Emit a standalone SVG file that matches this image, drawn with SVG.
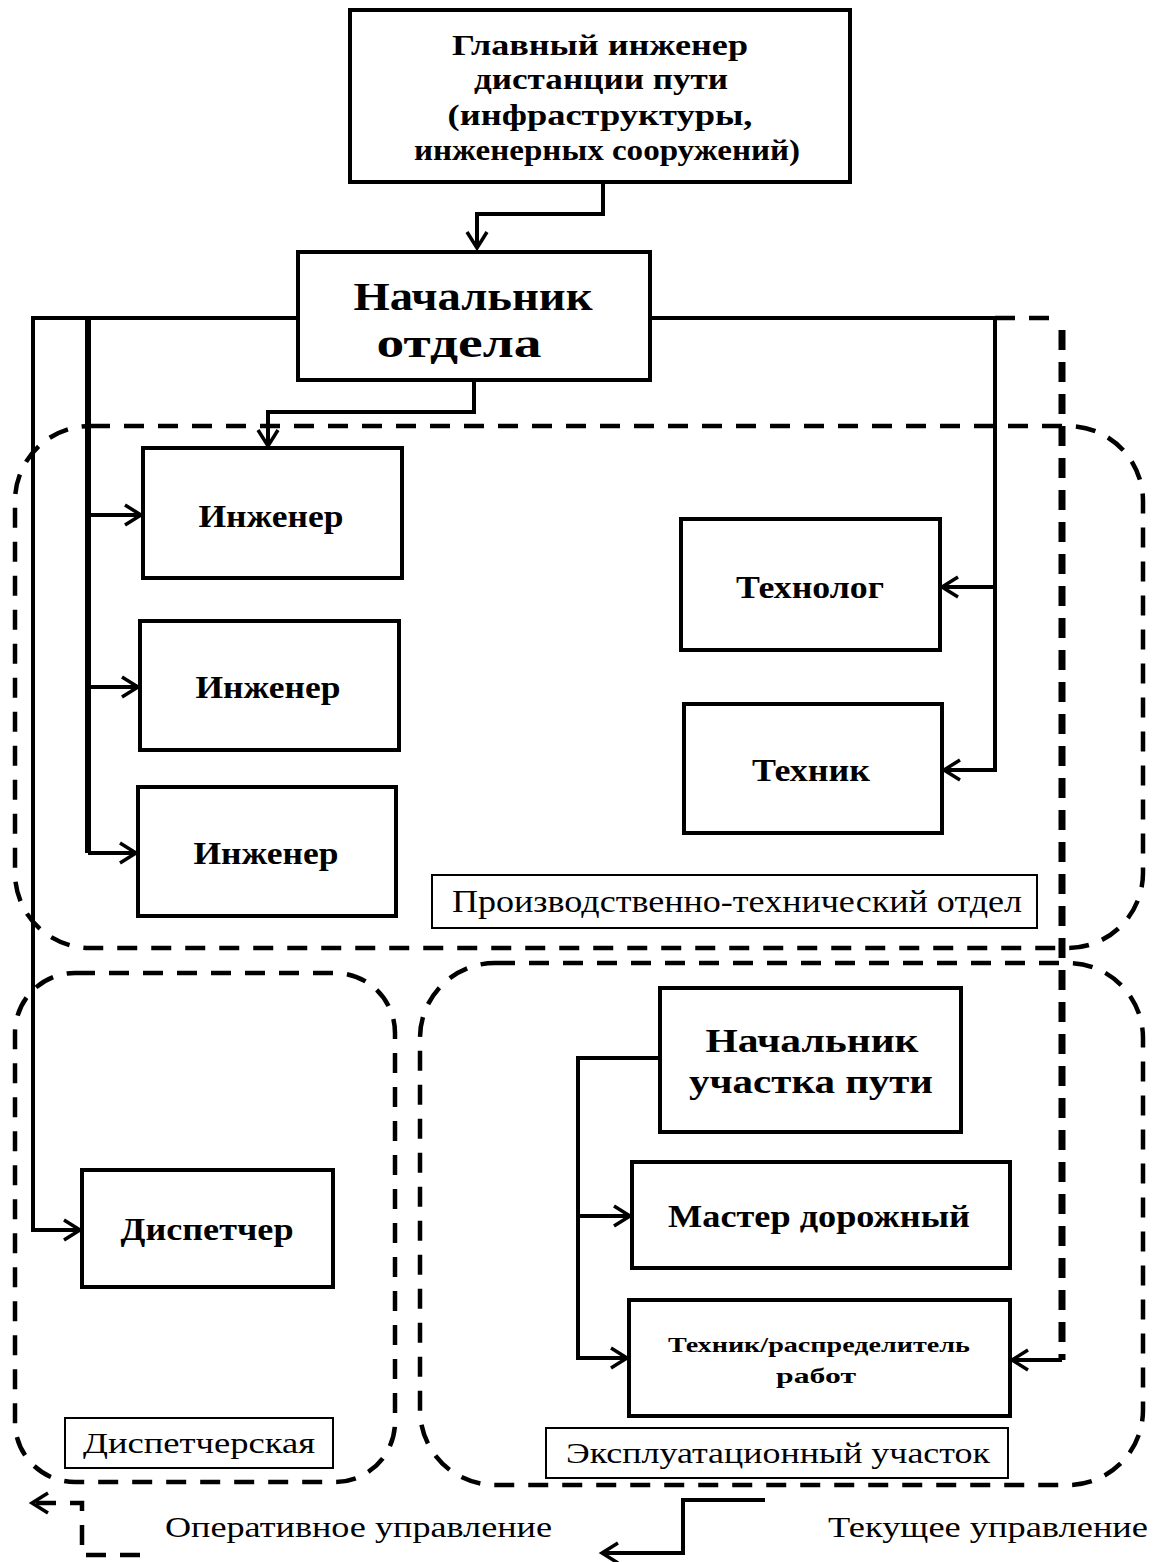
<svg xmlns="http://www.w3.org/2000/svg" width="1158" height="1562" viewBox="0 0 1158 1562">
<style>
.box{fill:#fff;stroke:#000;stroke-width:4}
.lbl{fill:#fff;stroke:#000;stroke-width:2}
.t{font-family:"Liberation Serif",serif;font-weight:bold;text-anchor:middle;fill:#000}
.r{font-family:"Liberation Serif",serif;fill:#000}
.ln{fill:none;stroke:#000;stroke-width:4}
.th{fill:none;stroke:#000;stroke-width:6}
.dsh{fill:none;stroke:#000;stroke-width:4.5;stroke-dasharray:20 14}
.dv{fill:none;stroke:#000;stroke-width:7;stroke-dasharray:20 12}
</style>
<defs>
<marker id="ar" markerUnits="userSpaceOnUse" markerWidth="24" markerHeight="24" refX="18" refY="10" orient="auto" overflow="visible">
<path d="M2,0 L18,10 L2,20" fill="none" stroke="#000" stroke-width="3.5" stroke-dasharray="none"/>
</marker>
</defs>
<rect width="1158" height="1562" fill="#fff"/>

<g id="groups">
<rect class="dsh" x="15" y="426" width="1128" height="522" rx="75"/>
<rect class="dsh" x="15" y="973" width="380" height="509" rx="60"/>
<rect class="dsh" x="420" y="963" width="723" height="522" rx="75"/>
</g>

<g id="connectors">
<path class="ln" d="M603,182 V214 H477 V248" marker-end="url(#ar)"/>
<path class="ln" d="M474,380 V412 H268 V446" marker-end="url(#ar)"/>
<path class="ln" d="M298,318 H33 V1230 H80" marker-end="url(#ar)"/>
<path class="th" d="M88,318 V853"/>
<path class="ln" d="M88,515 H141" marker-end="url(#ar)"/>
<path class="ln" d="M88,687 H138" marker-end="url(#ar)"/>
<path class="ln" d="M88,853 H136" marker-end="url(#ar)"/>
<path class="ln" d="M650,318 H995 V770 H944" marker-end="url(#ar)"/>
<path class="ln" d="M995,587 H942" marker-end="url(#ar)"/>
<path class="dsh" d="M995,318 H1062"/>
<path class="dv" d="M1062,330 V1360"/>
<path class="ln" d="M1062,1360 H1012" stroke-width="5" marker-end="url(#ar)"/>
<path class="ln" d="M660,1058 H578 V1358 H627" marker-end="url(#ar)"/>
<path class="ln" d="M578,1216 H630" marker-end="url(#ar)"/>
</g>

<g id="n-chief-engineer">
<rect class="box" x="350" y="10" width="500" height="172"/>
<text class="t" font-size="30" x="600" y="55" textLength="296" lengthAdjust="spacingAndGlyphs">Главный инженер</text>
<text class="t" font-size="30" x="601" y="89" textLength="254" lengthAdjust="spacingAndGlyphs">дистанции пути</text>
<text class="t" font-size="30" x="600" y="125" textLength="305" lengthAdjust="spacingAndGlyphs">(инфраструктуры,</text>
<text class="t" font-size="30" x="607" y="160" textLength="386" lengthAdjust="spacingAndGlyphs">инженерных сооружений)</text>
</g>

<g id="n-head">
<rect class="box" x="298" y="252" width="352" height="128"/>
<text class="t" font-size="40" x="473" y="310" textLength="239" lengthAdjust="spacingAndGlyphs">Начальник</text>
<text class="t" font-size="40" x="459" y="357" textLength="165" lengthAdjust="spacingAndGlyphs">отдела</text>
</g>

<g id="n-eng1">
<rect class="box" x="143" y="448" width="259" height="130"/>
<text class="t" font-size="31" x="271" y="527" textLength="145" lengthAdjust="spacingAndGlyphs">Инженер</text>
</g>
<g id="n-eng2">
<rect class="box" x="140" y="621" width="259" height="129"/>
<text class="t" font-size="31" x="268" y="698" textLength="145" lengthAdjust="spacingAndGlyphs">Инженер</text>
</g>
<g id="n-eng3">
<rect class="box" x="138" y="787" width="258" height="129"/>
<text class="t" font-size="31" x="266" y="864" textLength="145" lengthAdjust="spacingAndGlyphs">Инженер</text>
</g>
<g id="n-technologist">
<rect class="box" x="681" y="519" width="259" height="131"/>
<text class="t" font-size="31" x="810" y="598" textLength="148" lengthAdjust="spacingAndGlyphs">Технолог</text>
</g>
<g id="n-technician">
<rect class="box" x="684" y="704" width="258" height="129"/>
<text class="t" font-size="31" x="811" y="781" textLength="118" lengthAdjust="spacingAndGlyphs">Техник</text>
</g>

<g id="n-pto-label">
<rect class="lbl" x="432" y="875" width="605" height="53"/>
<text class="r" font-size="31" x="452" y="912" textLength="570" lengthAdjust="spacingAndGlyphs">Производственно-технический отдел</text>
</g>

<g id="n-dispatcher">
<rect class="box" x="82" y="1170" width="251" height="117"/>
<text class="t" font-size="31" x="207" y="1240" textLength="173" lengthAdjust="spacingAndGlyphs">Диспетчер</text>
</g>
<g id="n-disp-label">
<rect class="lbl" x="65" y="1418" width="268" height="50"/>
<text class="r" font-size="30" x="83" y="1453" textLength="232" lengthAdjust="spacingAndGlyphs">Диспетчерская</text>
</g>

<g id="n-section-head">
<rect class="box" x="660" y="988" width="301" height="144"/>
<text class="t" font-size="33" x="812" y="1052" textLength="213" lengthAdjust="spacingAndGlyphs">Начальник</text>
<text class="t" font-size="33" x="811" y="1093" textLength="244" lengthAdjust="spacingAndGlyphs">участка пути</text>
</g>
<g id="n-master">
<rect class="box" x="632" y="1162" width="378" height="106"/>
<text class="t" font-size="31" x="819" y="1227" textLength="302" lengthAdjust="spacingAndGlyphs">Мастер дорожный</text>
</g>
<g id="n-tech-dist">
<rect class="box" x="629" y="1300" width="381" height="116"/>
<text class="t" font-size="21" x="819" y="1352" textLength="302" lengthAdjust="spacingAndGlyphs">Техник/распределитель</text>
<text class="t" font-size="21" x="816" y="1383" textLength="80" lengthAdjust="spacingAndGlyphs">работ</text>
</g>
<g id="n-expl-label">
<rect class="lbl" x="546" y="1428" width="462" height="50"/>
<text class="r" font-size="30" x="566" y="1463" textLength="424" lengthAdjust="spacingAndGlyphs">Эксплуатационный участок</text>
</g>

<g id="legend">
<path class="dsh" d="M140,1555 H82 V1503 H32" marker-end="url(#ar)"/>
<text class="r" font-size="30" x="165" y="1537" textLength="387" lengthAdjust="spacingAndGlyphs">Оперативное управление</text>
<path class="ln" d="M765,1500 H683 V1553 H602" marker-end="url(#ar)"/>
<text class="r" font-size="30" x="828" y="1537" textLength="320" lengthAdjust="spacingAndGlyphs">Текущее управление</text>
</g>
</svg>
